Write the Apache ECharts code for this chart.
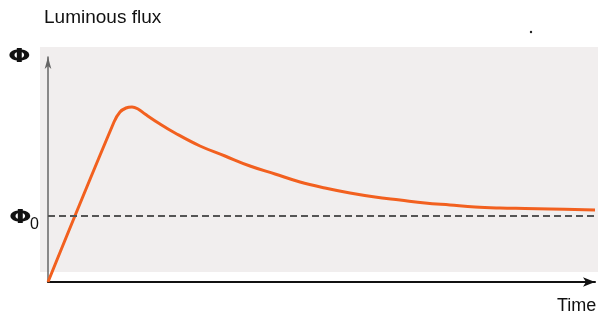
<!DOCTYPE html>
<html><head><meta charset="utf-8">
<script src="https://cdn.jsdelivr.net/npm/echarts@6/dist/echarts.min.js"></script>
<style>html,body{margin:0;padding:0;background:#fff}#c{width:602px;height:319px}</style>
</head><body><div id="c"></div>
<script>
// Time (arbitrary units) and luminous flux (arbitrary units)
const timeValues = [0, 66, 72, 78, 84, 90, 97, 112, 127, 152, 177, 202, 227, 252, 277, 302, 327, 352, 377, 402, 427, 452, 477, 502, 547];
const fluxValues = [0, 160, 170, 174, 175, 173, 168, 158, 149, 136, 126, 116, 108, 100, 94, 89, 85, 82, 79, 77, 75, 74, 73.5, 73, 72];
const phi0Value = 66;
const titleText = 'Luminous flux';
const yLabel = 'Φ';
const phi0Sub = '0';
const xLabel = 'Time';

const chart = echarts.init(document.getElementById('c'), null, {renderer: 'canvas'});
const data = timeValues.map((t, i) => [t, fluxValues[i]]);
chart.setOption({
  animation: false,
  grid: {left: 48, right: 7, top: 57, bottom: 37},
  graphic: [
    {type: 'rect', z: -10, shape: {x: 40, y: 47, width: 558, height: 225}, style: {fill: '#f1eeee'}},
    {type: 'text', left: 44, top: 8, style: {text: titleText, font: '19px "Liberation Sans", Arial, sans-serif', fill: '#111'}},
    {type: 'text', left: 8, top: 48, scaleX: 1.4, style: {text: yLabel, font: 'bold 19px "DejaVu Sans", sans-serif', fill: '#111'}},
    {type: 'text', left: 9, top: 209, scaleX: 1.4, style: {text: yLabel, font: 'bold 19px "DejaVu Sans", sans-serif', fill: '#111'}},
    {type: 'text', left: 30, top: 217, style: {text: phi0Sub, font: '16px "Liberation Sans", Arial, sans-serif', fill: '#111'}},
    {type: 'text', left: 557, top: 297, style: {text: xLabel, font: '18px "Liberation Sans", Arial, sans-serif', fill: '#111'}},
    {type: 'circle', shape: {cx: 531, cy: 32, r: 1.2}, style: {fill: '#222'}}
  ],
  xAxis: {
    type: 'value', min: 0, max: 547,
    axisLine: {show: true, symbol: ['none', 'arrow'], symbolSize: [7, 12], lineStyle: {color: '#111', width: 2}},
    axisTick: {show: false}, axisLabel: {show: false}, splitLine: {show: false}
  },
  yAxis: {
    type: 'value', min: 0, max: 225,
    axisLine: {show: true, symbol: ['none', 'arrow'], symbolSize: [5, 12], lineStyle: {color: '#666', width: 1.5}},
    axisTick: {show: false}, axisLabel: {show: false}, splitLine: {show: false}
  },
  series: [{
    type: 'line', data: data, smooth: 0.4, showSymbol: false,
    lineStyle: {color: '#f2601f', width: 3},
    markLine: {
      silent: true, symbol: 'none', label: {show: false},
      lineStyle: {color: '#555', type: [7, 4], width: 2},
      data: [{yAxis: phi0Value}]
    }
  }]
});
</script></body></html>
